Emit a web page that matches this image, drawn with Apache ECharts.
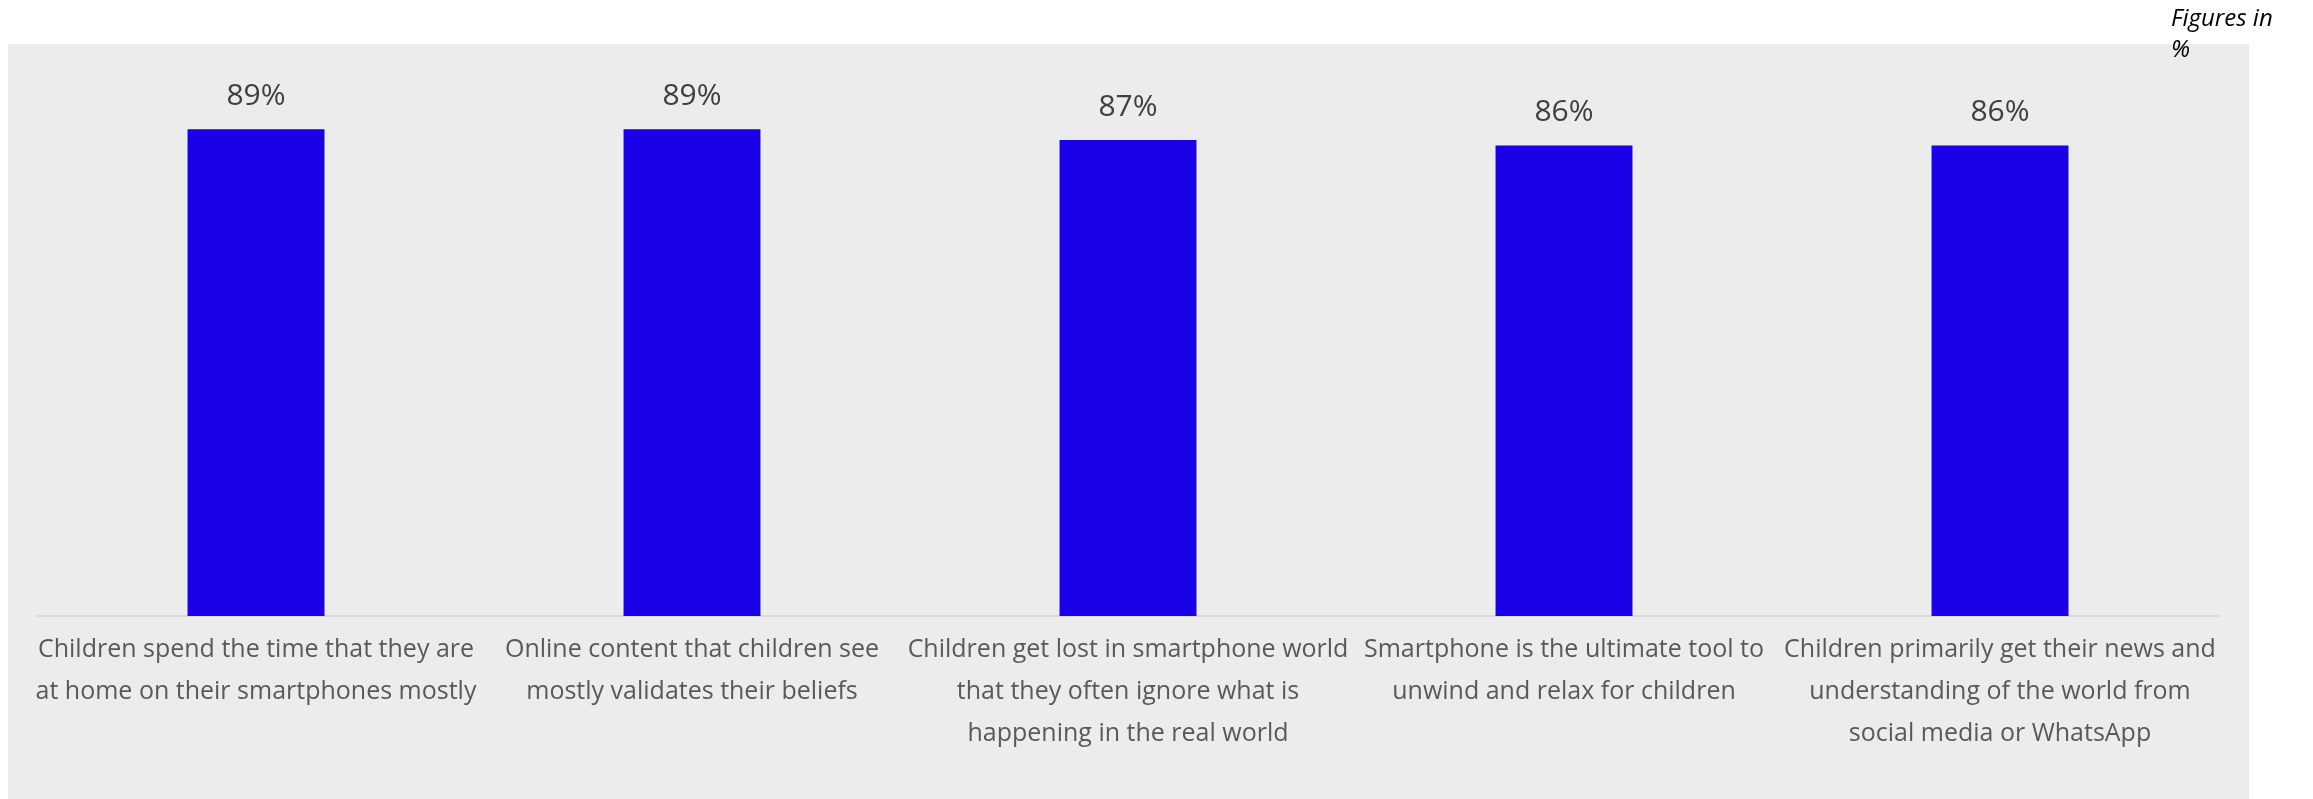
<!DOCTYPE html>
<html>
<head>
<meta charset="utf-8">
<script src="https://cdn.jsdelivr.net/npm/echarts@6/dist/echarts.min.js"></script>
<style>html,body{margin:0;padding:0;background:#fff}#c{width:2313px;height:799px}</style>
</head>
<body>
<div id="c"></div>
<script>
const categories = [
  "Children spend the time that they are\nat home on their smartphones mostly",
  "Online content that children see\nmostly validates their beliefs",
  "Children get lost in smartphone world\nthat they often ignore what is\nhappening in the real world",
  "Smartphone is the ultimate tool to\nunwind and relax for children",
  "Children primarily get their news and\nunderstanding of the world from\nsocial media or WhatsApp"
];
const values = [89, 89, 87, 86, 86];
const note = "Figures in\n%";

const chart = echarts.init(document.getElementById('c'), null, {renderer: 'canvas'});
chart.setOption({
  animation: false,
  graphic: [
    {type: 'rect', left: 8, top: 44, shape: {width: 2241, height: 755}, style: {fill: '#ECECEC'}, z: -10},
    {type: 'text', left: 2171, top: 4, style: {text: note, font: 'italic 24px "Open Sans"', fill: '#000', lineHeight: 31}}
  ],
  grid: {left: 38, right: 2313 - 2218, top: 69, bottom: 183, containLabel: false},
  xAxis: {
    type: 'category',
    data: categories,
    axisLine: {lineStyle: {color: '#D9D9D9', width: 2}},
    axisTick: {show: false},
    axisLabel: {
      interval: 0,
      margin: 13,
      color: '#595959',
      fontFamily: 'Open Sans',
      fontSize: 25,
      lineHeight: 42,
      align: 'center'
    }
  },
  yAxis: {
    type: 'value', min: 0, max: 100,
    show: false,
    splitLine: {show: false}
  },
  series: [{
    type: 'bar',
    data: values,
    barWidth: '31.4%',
    itemStyle: {color: '#1A00E6'},
    label: {
      show: true, position: 'top', distance: 18,
      formatter: p => p.value + '%',
      color: '#404040', fontFamily: 'Open Sans', fontSize: 30
    }
  }]
});
</script>
</body>
</html>
